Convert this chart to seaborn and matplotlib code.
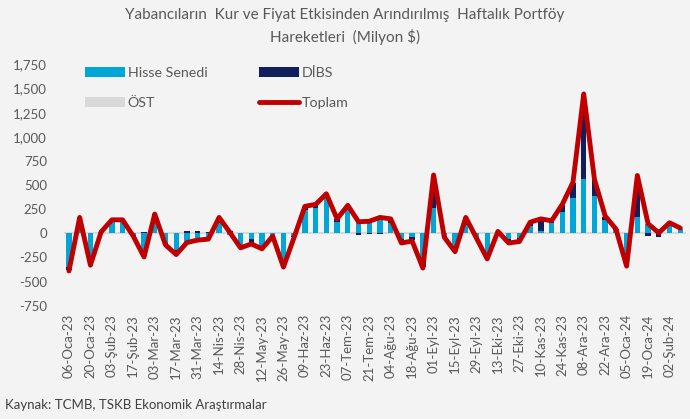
import matplotlib
matplotlib.use("Agg")
import matplotlib.pyplot as plt
import seaborn as sns
import numpy as np
import pandas as pd
from matplotlib.patches import Patch
from matplotlib.lines import Line2D
from matplotlib.ticker import FuncFormatter, MultipleLocator

weeks = [
    "06-Oca-23", "13-Oca-23", "20-Oca-23", "27-Oca-23",
    "03-Şub-23", "10-Şub-23", "17-Şub-23", "24-Şub-23",
    "03-Mar-23", "10-Mar-23", "17-Mar-23", "24-Mar-23", "31-Mar-23",
    "07-Nis-23", "14-Nis-23", "21-Nis-23", "28-Nis-23",
    "05-May-23", "12-May-23", "19-May-23", "26-May-23",
    "02-Haz-23", "09-Haz-23", "16-Haz-23", "23-Haz-23", "30-Haz-23",
    "07-Tem-23", "14-Tem-23", "21-Tem-23", "28-Tem-23",
    "04-Ağu-23", "11-Ağu-23", "18-Ağu-23", "25-Ağu-23",
    "01-Eyl-23", "08-Eyl-23", "15-Eyl-23", "22-Eyl-23", "29-Eyl-23",
    "06-Eki-23", "13-Eki-23", "20-Eki-23", "27-Eki-23",
    "03-Kas-23", "10-Kas-23", "17-Kas-23", "24-Kas-23",
    "01-Ara-23", "08-Ara-23", "15-Ara-23", "22-Ara-23", "29-Ara-23",
    "05-Oca-24", "12-Oca-24", "19-Oca-24", "26-Oca-24",
    "02-Şub-24", "09-Şub-24",
]

hisse = [-350, 150, -300, 10, 125, 120, -20, -220, 110, -100,
         -170, -110, -45, -40, 110, -20, -130, -60, -130, -20,
         -320, -30, 245, 260, 370, 115, 240, 110, 110, 135,
         110, -60, -40, -300, 260, -30, -150, 90, -40, -220,
         10, -60, -50, 80, 20, 110, 220, 370, 560, 390,
         140, 30, -260, 170, 95, 40, 90, 45]

dibs = [-30, 10, -25, 5, 10, 15, -5, 15, 90, -15,
        -40, 25, 20, 10, 40, 25, -15, -45, -20, -5,
        -20, -5, 25, 30, 30, 30, 40, -20, -10, -10,
        25, -30, -30, -50, 335, -5, -30, 60, -10, -35,
        5, -30, -25, 25, 125, 10, 70, 150, 875, 160,
        30, 10, -70, 420, -25, -40, 15, 5]

ost = [-10, 5, 5, 0, 5, 5, -5, -5, 10, -5,
       -10, -10, -5, -5, 15, 5, -5, -5, -10, -5,
       -10, -5, 10, 10, 10, 5, 10, 10, 10, 20,
       15, -10, -10, -10, 10, -5, -10, 15, -5, -10,
       5, -10, -10, 10, 5, 10, 10, 10, 10, 10,
       10, 5, -10, 10, 5, 5, -10, 5]

toplam = [-390, 165, -330, 15, 140, 140, -30, -245, 200, -120,
          -220, -95, -70, -60, 165, 10, -150, -110, -160, -30,
          -350, -40, 280, 300, 410, 150, 290, 120, 125, 165,
          150, -100, -80, -360, 605, -40, -190, 165, -50, -265,
          20, -100, -85, 115, 150, 130, 300, 530, 1445, 560,
          180, 45, -340, 600, 100, 5, 110, 55]

c_hisse = "#00a6d6"
c_dibs = "#0f1f5c"
c_ost = "#d9d9d9"
c_top = "#c00000"
bg = "#f3f3f3"
txt = "#595959"

sns.set_theme(style="white")
plt.rcParams["font.family"] = ["Lato", "DejaVu Sans"]

fig = plt.figure(figsize=(6.9, 4.19), dpi=100, facecolor=bg)
ax = fig.add_axes([63.6 / 690, 113.3 / 419, 622 / 690, 241.2 / 419])
ax.set_facecolor(bg)

n = len(weeks)
x = np.arange(n)
width = 0.5

series = [np.array(hisse, float), np.array(dibs, float), np.array(ost, float)]
colors = [c_hisse, c_dibs, c_ost]
pos_base = np.zeros(n)
neg_base = np.zeros(n)
for vals, col in zip(series, colors):
    pos = np.where(vals > 0, vals, 0)
    neg = np.where(vals < 0, vals, 0)
    ax.bar(x, pos, width=width, bottom=pos_base, color=col, linewidth=0, zorder=2)
    ax.bar(x, neg, width=width, bottom=neg_base, color=col, linewidth=0, zorder=2)
    pos_base += pos
    neg_base += neg

ax.axhline(0, color="#d9d9d9", lw=1.5, zorder=1)

df = pd.DataFrame({"x": x, "Toplam": toplam})
sns.lineplot(data=df, x="x", y="Toplam", ax=ax, color=c_top, lw=3.5,
             zorder=3, solid_joinstyle="round", solid_capstyle="round")

ax.set_xlim(-0.5, n - 0.5)
ax.set_ylim(-750, 1750)
ax.yaxis.set_major_locator(MultipleLocator(250))
ax.yaxis.set_major_formatter(FuncFormatter(lambda v, p: f"{int(v):,}"))
ax.set_xticks(x[::2])
ax.set_xticklabels(weeks[::2], rotation=90)
ax.tick_params(axis="both", length=0, labelsize=9.5, labelcolor=txt)
ax.tick_params(axis="x", pad=6)
ax.tick_params(axis="y", pad=12)
ax.set_xlabel("")
ax.set_ylabel("")
for s in ax.spines.values():
    s.set_visible(False)

handles = [
    Patch(facecolor=c_hisse, edgecolor="none"),
    Patch(facecolor=c_ost, edgecolor="none"),
    Patch(facecolor=c_dibs, edgecolor="none"),
    Line2D([0], [0], color=c_top, lw=3.5),
]
labels = ["Hisse Senedi", "ÖST", "DİBS", "Toplam"]
leg = fig.legend(handles, labels, ncol=2, loc="upper left",
                 bbox_to_anchor=(72 / 690, 1 - 54 / 419), frameon=False,
                 fontsize=10.3, handlelength=2.8, handleheight=0.75,
                 handletextpad=0.2, columnspacing=3.6, labelspacing=1.25)
for t in leg.get_texts():
    t.set_color(txt)

fig.text(0.5, 1 - 15 / 419,
         "Yabancıların  Kur ve Fiyat Etkisinden Arındırılmış  Haftalık Portföy",
         ha="center", va="center", fontsize=11, color=txt)
fig.text(0.5, 1 - 37 / 419, "Hareketleri  (Milyon $)",
         ha="center", va="center", fontsize=11, color=txt)
fig.text(5 / 690, 1 - 405 / 419, "Kaynak: TCMB, TSKB Ekonomik Araştırmalar",
         ha="left", va="center", fontsize=9.5, color="#404040")

fig.savefig("out.png", dpi=100, facecolor=bg)
